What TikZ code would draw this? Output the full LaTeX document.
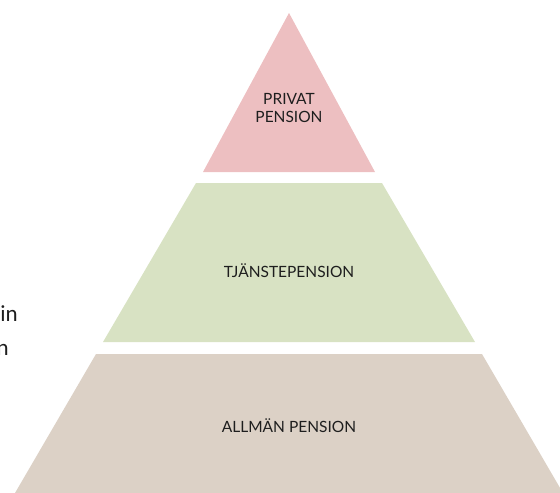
\documentclass[tikz,border=0pt]{standalone}
\usepackage{fontspec}
\setmainfont{Lato}
\newfontfamily\leftfont{Carlito}
\definecolor{pinkc}{RGB}{237,191,193}
\definecolor{greenc}{RGB}{216,226,195}
\definecolor{tanc}{RGB}{220,209,198}
\definecolor{txt}{RGB}{30,30,30}
\begin{document}
\begin{tikzpicture}[x=1pt,y=-1pt,
  lbl/.style={font=\fontsize{15.5}{18}\selectfont, text=txt, align=center, inner sep=0pt},
  sidetxt/.style={font=\leftfont\fontsize{23}{34}\selectfont, text=txt, inner sep=0pt, anchor=base east}]
\useasboundingbox (0,0) rectangle (560,493);
\begin{scope}
\clip (0,0) rectangle (560,493);
\fill[pinkc] (289,13) -- (375,172) -- (203,172) -- cycle;
\fill[greenc] (196,183) -- (382,183) -- (475,342) -- (103,342) -- cycle;
\fill[tanc] (96,354) -- (482,354) -- (563,493) -- (15,493) -- cycle;
\end{scope}
\node[lbl] (privat) at (289,108.5) {PRIVAT\\PENSION};
\node[lbl] (tjanste) at (289,270.5) {TJÄNSTEPENSION};
\node[lbl] (allman) at (289,425.5) {ALLMÄN PENSION};
\node[sidetxt] (s1) at (18,321) {in};
\node[sidetxt] (s2) at (9,355) {n};
\end{tikzpicture}
\end{document}
